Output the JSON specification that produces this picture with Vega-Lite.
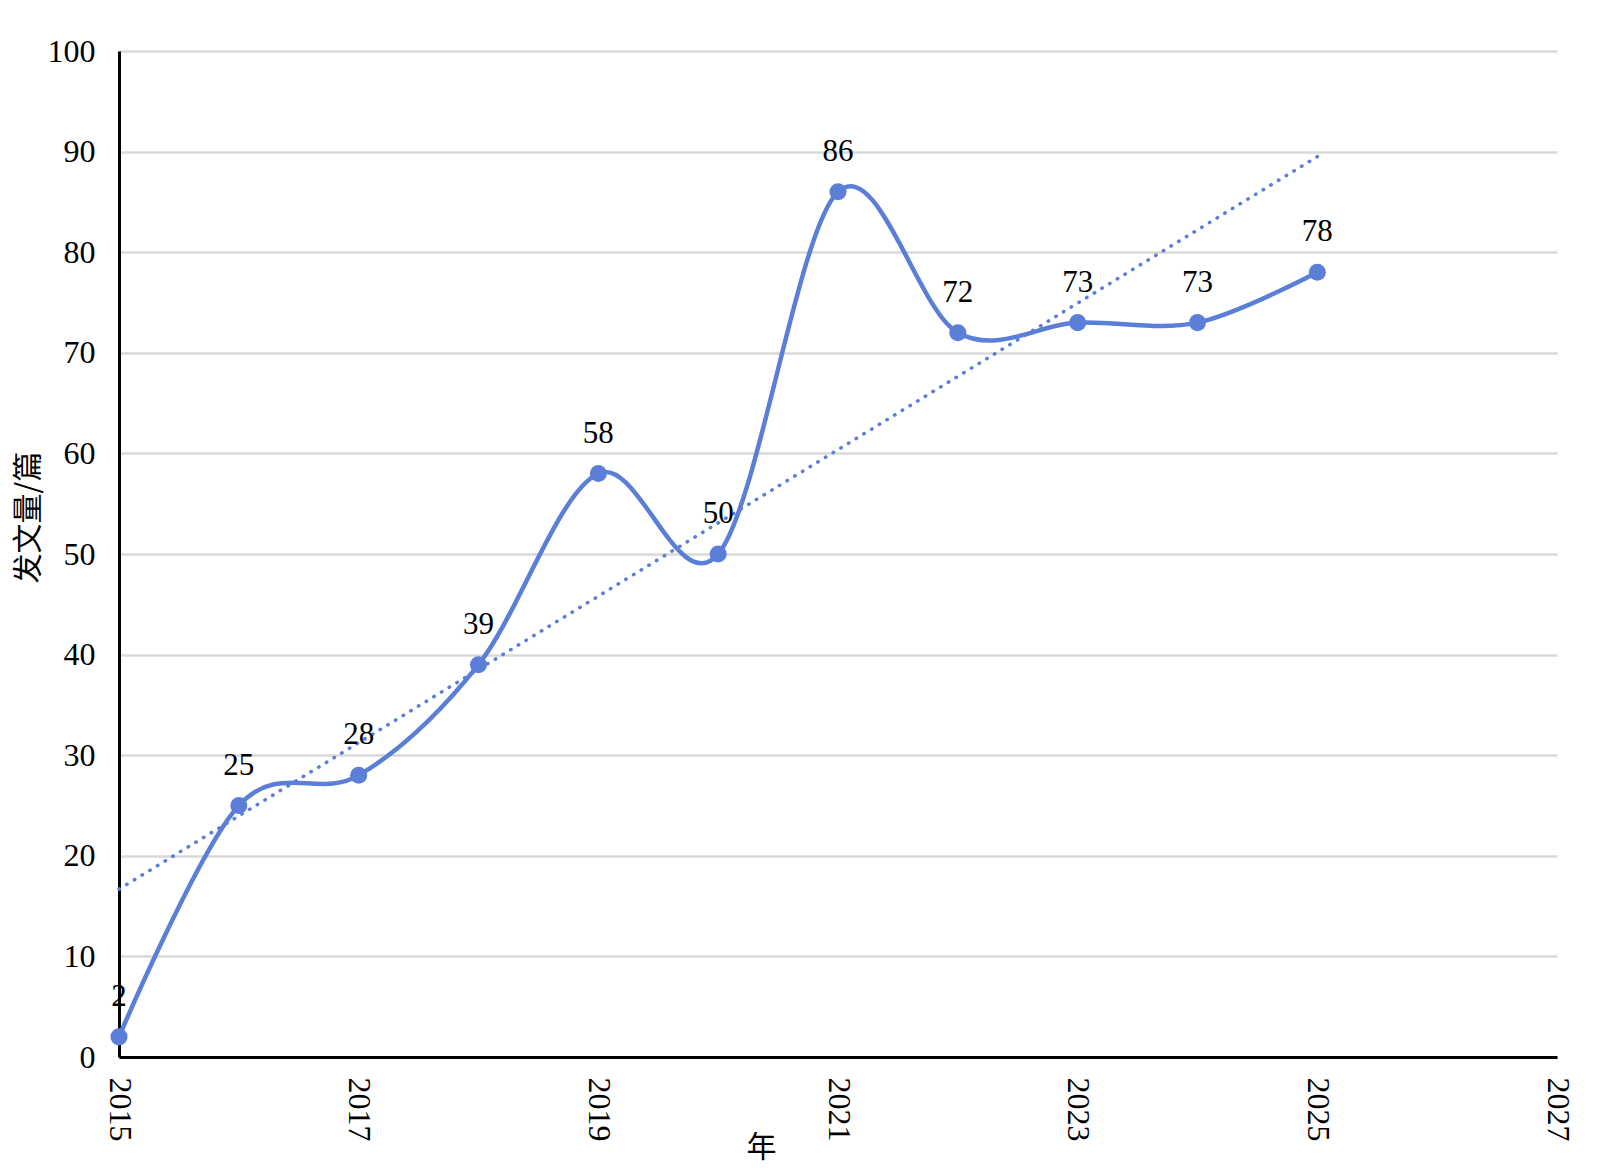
{
  "$schema": "https://vega.github.io/schema/vega-lite/v6.json",
  "width": 1438,
  "height": 1006,
  "autosize": {"type": "none"},
  "padding": {"left": 119, "top": 51, "right": 43, "bottom": 111},
  "background": "white",
  "config": {
    "view": {"stroke": null},
    "font": "Liberation Serif"
  },
  "data": {
    "values": [
      {"year": 2015, "count": 2},
      {"year": 2016, "count": 25},
      {"year": 2017, "count": 28},
      {"year": 2018, "count": 39},
      {"year": 2019, "count": 58},
      {"year": 2020, "count": 50},
      {"year": 2021, "count": 86},
      {"year": 2022, "count": 72},
      {"year": 2023, "count": 73},
      {"year": 2024, "count": 73},
      {"year": 2025, "count": 78}
    ]
  },
  "encoding": {
    "x": {
      "field": "year",
      "type": "quantitative",
      "scale": {"domain": [2015, 2027], "nice": false, "zero": false},
      "axis": {
        "values": [2015, 2017, 2019, 2021, 2023, 2025, 2027],
        "format": "d",
        "labelAngle": 90,
        "labelAlign": "left",
        "labelBaseline": "middle",
        "labelFont": "Liberation Serif",
        "labelFontSize": 32,
        "labelColor": "black",
        "labelPadding": 20,
        "ticks": false,
        "grid": false,
        "domainColor": "black",
        "domainWidth": 3,
        "title": "年",
        "titleFont": "Noto Sans CJK SC",
        "titleFontSize": 30,
        "titleFontWeight": "normal",
        "titleColor": "black",
        "titleX": 642,
        "titleY": 90,
        "titleBaseline": "middle",
        "titleAlign": "center",
        "labelOverlap": false
      }
    },
    "y": {
      "field": "count",
      "type": "quantitative",
      "scale": {"domain": [0, 100], "nice": false},
      "axis": {
        "values": [0, 10, 20, 30, 40, 50, 60, 70, 80, 90, 100],
        "labelFont": "Liberation Serif",
        "labelFontSize": 32,
        "labelColor": "black",
        "labelPadding": 24,
        "ticks": false,
        "grid": true,
        "gridColor": "#d9d9d9",
        "gridWidth": 2.5,
        "domainColor": "black",
        "domainWidth": 3,
        "title": "发文量/篇",
        "titleFont": "Noto Sans CJK SC",
        "titleFontSize": 30,
        "titleFontWeight": "normal",
        "titleColor": "black",
        "titleAngle": -90,
        "titleX": -91,
        "titleY": 466,
        "titleBaseline": "middle",
        "titleAlign": "center",
        "labelOverlap": false
      }
    }
  },
  "layer": [
    {
      "mark": {"type": "line", "interpolate": "cardinal", "color": "#5b7fd8", "strokeWidth": 4.5}
    },
    {
      "mark": {"type": "line", "color": "#5b7fd8", "strokeWidth": 3.5, "strokeDash": [0.5, 8.5], "strokeCap": "round"},
      "transform": [{"regression": "count", "on": "year"}]
    },
    {
      "mark": {"type": "circle", "color": "#5b7fd8", "opacity": 1, "size": 290}
    },
    {
      "mark": {"type": "text", "dy": -40, "fontSize": 31, "font": "Liberation Serif", "color": "black", "baseline": "middle"},
      "encoding": {"text": {"field": "count", "type": "quantitative"}}
    }
  ]
}
